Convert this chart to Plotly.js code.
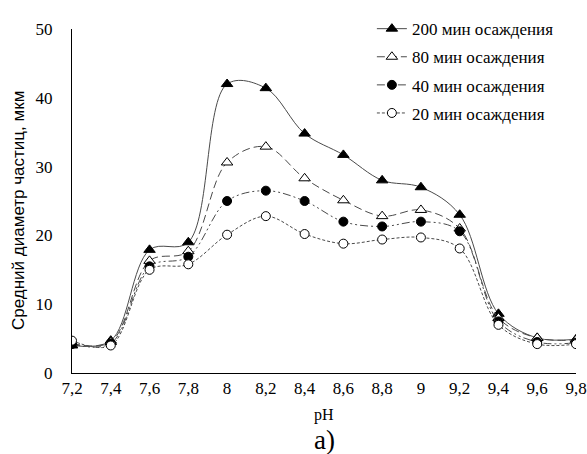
<!DOCTYPE html>
<html>
<head>
<meta charset="utf-8">
<script src="https://cdn.plot.ly/plotly-3.0.1.min.js"></script>
<style>html,body{margin:0;padding:0;background:#fff;}#chart{width:587px;height:454px;}</style>
</head>
<body>
<div id="chart"></div>
<script>
const pH = [7.2, 7.4, 7.6, 7.8, 8.0, 8.2, 8.4, 8.6, 8.8, 9.0, 9.2, 9.4, 9.6, 9.8];
const tickLabels = ["7,2","7,4","7,6","7,8","8","8,2","8,4","8,6","8,8","9","9,2","9,4","9,6","9,8"];
const s200 = [4.0, 4.7, 17.9, 19.0, 42.0, 41.4, 34.8, 31.7, 28.0, 27.0, 23.0, 8.6, 5.1, 4.9];
const s80  = [4.3, 4.5, 16.3, 17.7, 30.6, 32.9, 28.3, 25.1, 22.8, 23.7, 21.0, 8.0, 5.1, 4.8];
const s40  = [4.2, 4.3, 15.5, 16.9, 25.0, 26.5, 25.0, 22.0, 21.3, 22.0, 20.6, 7.5, 4.5, 4.4];
const s20  = [4.7, 4.0, 15.0, 15.8, 20.1, 22.8, 20.2, 18.8, 19.4, 19.7, 18.1, 7.0, 4.2, 4.2];
const names = ["200 мин осаждения","80 мин осаждения","40 мин осаждения","20 мин осаждения"];

const SERIF = "Liberation Serif";
const SANS = "Liberation Sans";

function tr(y, name, dash, symbol, size, fill, group){
  return {x: pH, y: y, name: name, type: 'scatter', mode: 'lines+markers',
    legendgroup: group,
    line: {shape: 'spline', smoothing: 1, color: '#4a4a4a', width: 1, dash: dash},
    marker: {symbol: symbol, size: size, color: fill, line: {color: '#000', width: 1}}};
}
const data = [
  tr(s200, names[0], 'solid', 'triangle-up', 10, '#000', 'a'),
  tr(s80, names[1], '8px,4px', 'triangle-up', 10, '#fff', 'b'),
  tr(s40, names[2], '8px,3px,2px,3px,2px,3px', 'circle', 9, '#000', 'c'),
  tr(s20, names[3], '3px,2px', 'circle', 9, '#fff', 'd')
];

const layout = {
  width: 587, height: 454,
  margin: {l: 72, r: 11, t: 23, b: 81},
  paper_bgcolor: '#fff', plot_bgcolor: '#fff',
  font: {family: SERIF, color: '#000'},
  showlegend: true,
  legend: {x: 0.595, y: 1.052, xanchor: 'left', yanchor: 'top', tracegroupgap: 3,
           font: {family: SERIF, size: 17, color: '#000'}, bgcolor: 'rgba(255,255,255,0)'},
  xaxis: {range: [7.2, 9.8], tickmode: 'array', tickvals: pH, ticktext: tickLabels,
          showgrid: false, zeroline: false, showline: true, linecolor: '#000', linewidth: 1,
          ticks: '', ticklabelstandoff: 0, tickfont: {family: SERIF, size: 17, color: '#000'}},
  yaxis: {range: [0, 50], dtick: 10, showgrid: false, zeroline: false, showline: true,
          linecolor: '#000', linewidth: 1, ticks: '',
          tickfont: {family: SERIF, size: 17, color: '#000'}, ticklabelstandoff: 15},
  annotations: [
    {text: 'Средний диаметр частиц, мкм', xref: 'paper', yref: 'paper', x: 0, y: 0.5,
     xshift: -54, yshift: -10, textangle: -90, showarrow: false, xanchor: 'center', yanchor: 'middle',
     font: {family: SANS, size: 17, color: '#000'}},
    {text: 'pH', xref: 'paper', yref: 'paper', x: 0.5, y: 0, yshift: -42, showarrow: false,
     xanchor: 'center', yanchor: 'middle', font: {family: SERIF, size: 16, color: '#000'}},
    {text: 'а)', xref: 'paper', yref: 'paper', x: 0.5, y: 0, yshift: -67, showarrow: false,
     xanchor: 'center', yanchor: 'middle', font: {family: SERIF, size: 27, color: '#000'}}
  ]
};
Plotly.newPlot('chart', data, layout, {displayModeBar: false, staticPlot: true});
</script>
</body>
</html>
